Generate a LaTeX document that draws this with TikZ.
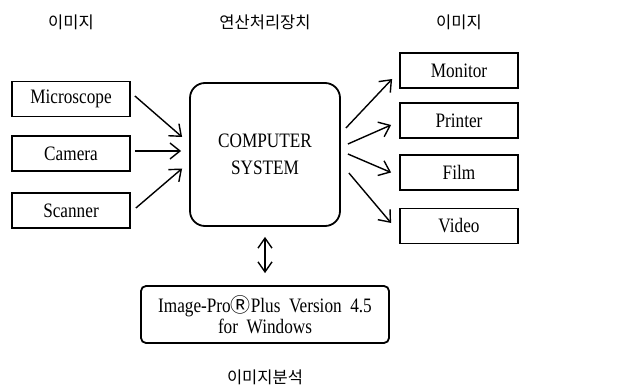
\documentclass[tikz,border=0pt]{standalone}
\usepackage{fontspec}
\setmainfont{Liberation Serif}[FakeStretch=0.84]
\newfontfamily\kr{Noto Sans CJK KR}
\usepackage{tikz}
\usetikzlibrary{arrows.meta}

\begin{document}
\begin{tikzpicture}[x=1pt, y=-1pt,
        box/.style={draw, line width=1.8pt, minimum width=118pt, minimum height=35pt, inner sep=0pt, font=\fontsize{20.5}{21}\selectfont},
        conn/.style={line width=1.4pt, -{Straight Barb[length=10pt,width=16pt,line width=1.4pt]}},
        title/.style={font=\kr\fontsize{16.5}{18}\selectfont}]
            \useasboundingbox (0, 0) rectangle (644, 387);

            \node[title] (tin) at (71, 22) {이미지};
            \node[title] (tcpu) at (265, 22) {연산처리장치};
            \node[title] (tout) at (459, 22) {이미지};
            \node[title] (tsoft) at (265, 377) {이미지분석};

            \node[box] (mic) at (71, 99) {Microscope};
            \node[box] (cam) at (71, 153.5) {Camera};
            \node[box] (scan) at (71, 210.5) {Scanner};

            \node[box, rounded corners=15pt, minimum width=150pt, minimum height=143pt, align=center, font=\fontsize{20.5}{27}\selectfont] (comp) at (265, 154.5) {COMPUTER\\SYSTEM};

            \node[box] (mon) at (459, 70.5) {Monitor};
            \node[box] (pri) at (459, 120.5) {Printer};
            \node[box] (film) at (459, 172.5) {Film};
            \node[box] (vid) at (459, 226) {Video};

            \node[box, rounded corners=5pt, minimum width=248pt, minimum height=57pt, align=center] (soft) at (265, 314.5) {Image-Pro{\kr\fontsize{20}{21}\selectfont Ⓡ}Plus\ \ Version\ \ 4.5\\for\ \ Windows};

            \draw[conn] ([shift={(4,-3)}]mic.east) -- ([shift={(-7,-17.5)}]comp.west);
            \draw[conn] ([shift={(4,-2.5)}]cam.east) -- ([shift={(-8,-3.5)}]comp.west);
            \draw[conn] ([shift={(5,-2.5)}]scan.east) -- ([shift={(-7,14)}]comp.west);

            \draw[conn] ([shift={(5,-26.5)}]comp.east) -- ([shift={(-7,8.5)}]mon.west);
            \draw[conn] ([shift={(7,-10.5)}]comp.east) -- ([shift={(-8,4.5)}]pri.west);
            \draw[conn] ([shift={(7,-0.5)}]comp.east) -- ([shift={(-8,0)}]film.west);
            \draw[conn] ([shift={(8,18.5)}]comp.east) -- ([shift={(-8,-3)}]vid.west);

            \draw[line width=1.4pt, {Straight Barb[length=10pt,width=14pt,line width=1.4pt]}-{Straight Barb[length=10pt,width=14pt,line width=1.4pt]}, shorten <=10pt, shorten >=12pt] (comp.south) -- (soft.north);
        \end{tikzpicture}
\end{document}
